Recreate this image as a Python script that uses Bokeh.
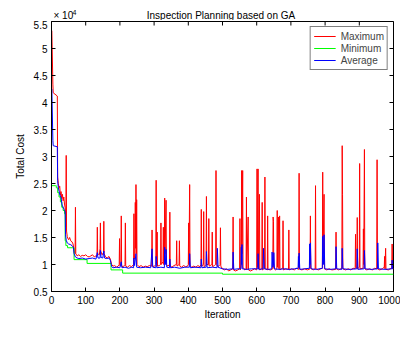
import math
from bokeh.plotting import figure
from bokeh.layouts import column
from bokeh.models import FixedTicker, Range1d, Legend, LegendItem
from bokeh.core.properties import value
from bokeh.embed import file_html
from bokeh.resources import INLINE

# ---------------- data (values in units of 1e4) ----------------
x_ticks = [0, 100, 200, 300, 400, 500, 600, 700, 800, 900, 1000]
y_ticks = [0.5, 1, 1.5, 2, 2.5, 3, 3.5, 4, 4.5, 5, 5.5]
y_tick_labels = ["0.5", "1", "1.5", "2", "2.5", "3", "3.5", "4", "4.5", "5", "5.5"]

title_text = "Inspection Planning based on GA"
scale_text = "× 10"
scale_exp = "4"

# Minimum cost (step function: iteration where a new minimum is reached)
min_iter = [0, 12, 14, 18, 22, 26, 30, 34, 38, 40, 42, 47, 66, 104, 174, 208, 500, 1000]
min_cost = [2.46, 2.46, 2.42, 2.33, 2.25, 2.16, 2.06, 2.00, 1.94, 1.44, 1.35, 1.31, 1.09, 1.02, 0.90, 0.84, 0.82, 0.82]

# Maximum cost
max_iter = [1, 4, 5, 17, 18, 20, 22, 24, 26, 28, 30, 32, 34, 36, 38, 40, 41, 42, 43, 44, 46, 48,
            50, 53, 56, 60, 63, 65, 67, 69, 70, 71, 75, 80, 85, 90, 95, 100, 105, 110, 115, 120,
            125, 130, 133, 134, 135, 140, 142, 143, 144, 148, 152, 153, 154, 158, 163, 168, 172,
            176, 180, 185, 190, 195, 198, 199, 200, 203, 204, 205, 210, 215, 216, 217, 222, 228,
            234, 240, 241, 242, 244, 245, 246, 247, 248, 249, 250, 256, 262, 268, 274, 280, 286,
            293, 294, 295, 300, 305, 306, 307, 309, 310, 315, 319, 320, 321, 326, 327, 328, 330,
            331, 332, 335, 336, 340, 345, 346, 347, 352, 358, 365, 366, 367, 373, 374, 375, 380,
            386, 392, 398, 400, 401, 402, 404, 405, 410, 416, 422, 428, 434, 437, 438, 439, 444,
            445, 446, 450, 452, 453, 454, 459, 460, 461, 469, 470, 471, 476, 480, 481, 482, 487,
            493, 494, 495, 500, 506, 512, 518, 524, 530, 531, 532, 538, 545, 550, 551, 552, 555,
            556, 557, 559, 560, 565, 569, 570, 571, 575, 576, 582, 588, 594, 600, 601, 602, 604,
            605, 608, 609, 615, 616, 617, 623, 624, 625, 631, 632, 633, 640, 647, 648, 649, 650,
            655, 659, 660, 661, 664, 665, 667, 668, 672, 676, 677, 678, 685, 693, 694, 695, 702,
            710, 716, 723, 724, 725, 732, 740, 748, 756, 757, 758, 765, 771, 772, 773, 780, 787,
            792, 793, 794, 797, 798, 805, 812, 820, 831, 832, 833, 840, 849, 850, 851, 852, 860,
            868, 875, 882, 888, 889, 890, 893, 894, 895, 900, 901, 902, 911, 912, 913, 915, 916,
            922, 930, 938, 945, 951, 952, 953, 960, 967, 973, 974, 975, 977, 978, 985, 990, 995,
            996, 997, 1000]
max_cost = [5.33, 4.34, 4.18, 4.12, 2.62, 2.50, 2.42, 2.45, 2.28, 2.35, 2.22, 2.30, 2.18, 2.25, 2.12, 2.05, 1.90, 1.70, 3.02, 1.62, 1.52, 1.48,
            1.46, 1.50, 1.44, 1.42, 1.38, 1.30, 1.22, 1.20, 2.06, 1.20, 1.16, 1.18, 1.15, 1.17, 1.16, 1.18, 1.15, 1.14, 1.16, 1.18,
            1.14, 1.16, 1.15, 1.69, 1.20, 1.18, 1.30, 1.77, 1.25, 1.18, 1.22, 1.80, 1.20, 1.14, 1.12, 1.15, 1.10,
            1.00, 0.97, 0.98, 0.95, 0.97, 1.00, 1.48, 0.98, 1.00, 1.90, 0.97, 0.96, 1.00, 1.77, 0.97, 0.95, 0.98,
            0.96, 1.00, 1.94, 1.10, 1.20, 2.15, 1.30, 2.48, 1.20, 2.20, 1.00, 0.96, 0.98, 0.95, 0.97, 0.96, 0.98,
            0.97, 1.64, 0.98, 0.96, 1.00, 2.56, 1.10, 1.60, 0.97, 0.98, 1.00, 1.77, 1.00, 1.05, 1.69, 1.00, 1.10,
            2.23, 1.20, 2.19, 1.00, 0.97, 1.00, 1.97, 0.98, 0.95, 0.98, 1.00, 1.44, 0.97, 1.00, 1.44, 0.97, 0.95,
            0.98, 0.96, 0.97, 1.00, 1.77, 1.00, 2.48, 0.98, 0.95, 0.97, 0.95, 0.98, 0.96, 1.00, 2.02, 0.97, 1.00,
            1.98, 0.96, 0.98, 1.00, 2.26, 1.00, 1.00, 1.85, 0.97, 1.00, 1.60, 0.96, 0.98, 1.00, 2.74, 1.00, 0.96,
            1.00, 1.68, 0.97, 0.92, 0.90, 0.92, 0.88, 0.90, 0.92, 1.88, 0.90, 0.88, 0.90, 0.92, 1.85, 0.90, 1.00,
            2.74, 1.20, 2.74, 0.95, 0.90, 0.92, 2.25, 0.90, 1.88, 0.90, 0.88, 0.90, 0.92, 0.90, 2.77, 0.95, 2.77,
            0.92, 2.30, 0.90, 0.92, 2.15, 0.90, 0.93, 2.62, 0.92, 0.90, 1.90, 0.91, 0.90, 0.92, 1.88, 1.80, 0.93,
            0.90, 0.92, 2.00, 0.95, 1.88, 0.92, 1.90, 0.90, 0.92, 0.93, 1.81, 0.90, 0.92, 0.91, 1.64, 0.90, 0.92,
            0.90, 0.93, 0.91, 2.69, 0.92, 0.90, 0.92, 0.90, 0.92, 1.90, 0.93, 0.90, 0.92, 2.46, 0.92, 0.90, 0.92,
            0.93, 2.71, 1.20, 2.30, 0.92, 0.90, 0.92, 0.90, 0.91, 1.60, 0.92, 0.90, 0.93, 3.20, 2.30, 0.92, 0.90,
            0.92, 0.90, 0.93, 0.92, 1.56, 0.95, 0.93, 1.87, 0.92, 0.95, 2.87, 0.92, 0.93, 1.66, 1.00, 3.13, 0.92,
            0.90, 0.92, 0.90, 0.93, 0.92, 2.94, 0.92, 0.90, 0.92, 0.95, 1.15, 0.92, 1.30, 0.91, 0.90, 0.92, 0.93,
            1.38, 0.93, 0.92]

# Average cost
avg_iter = [1, 4, 5, 17, 18, 20, 22, 25, 28, 31, 34, 37, 40, 41, 43, 46, 50, 55, 60, 64, 66, 70, 75,
            80, 90, 100, 110, 120, 130, 134, 136, 142, 143, 145, 150, 153, 155, 160, 168, 172, 176, 180,
            190, 200, 204, 206, 215, 225, 235, 240, 241, 243, 247, 249, 260, 275, 290, 294, 296, 305,
            306, 308, 320, 330, 331, 333, 335, 337, 345, 346, 348, 360, 375, 390, 403, 404, 406, 420,
            437, 438, 440, 452, 453, 455, 470, 484, 485, 487, 500, 515, 530, 531, 533, 545, 554, 555,
            556, 557, 558, 570, 585, 603, 604, 606, 619, 620, 622, 635, 644, 645, 647, 649, 650, 652,
            665, 680, 695, 710, 721, 722, 723, 724, 726, 740, 754, 755, 756, 757, 759, 775, 792, 793,
            795, 797, 799, 815, 831, 832, 834, 849, 850, 852, 870, 893, 894, 896, 914, 915, 917, 935,
            953, 954, 956, 975, 995, 996, 997, 1000]
avg_cost = [4.25, 3.30, 3.20, 3.18, 2.55, 2.42, 2.36, 2.28, 2.24, 2.10, 2.06, 2.02, 1.98, 1.55, 1.45, 1.40, 1.38, 1.37, 1.35, 1.32, 1.20, 1.14, 1.12,
            1.11, 1.12, 1.10, 1.11, 1.12, 1.10, 1.22, 1.12, 1.12, 1.26, 1.13, 1.12, 1.25, 1.12, 1.11, 1.12, 1.08, 0.96, 0.94,
            0.95, 0.94, 1.05, 0.94, 0.95, 0.93, 0.95, 0.94, 1.12, 0.98, 1.20, 0.95, 0.94, 0.95, 0.94, 1.29, 0.95, 0.94,
            1.15, 0.94, 0.95, 0.94, 1.32, 1.00, 1.28, 0.95, 0.94, 1.10, 0.94, 0.95, 0.93, 0.95, 0.95, 1.20, 0.94, 0.95,
            0.94, 1.10, 0.94, 0.95, 1.24, 0.94, 0.95, 0.94, 1.30, 0.95, 0.92, 0.91, 0.92, 1.23, 0.91, 0.92, 0.92, 1.32,
            1.00, 1.37, 0.92, 0.91, 0.92, 0.92, 1.20, 0.91, 0.92, 1.30, 0.92, 0.91, 0.92, 1.23, 0.95, 0.98, 1.22, 0.92,
            0.91, 0.92, 0.91, 0.92, 0.93, 1.15, 0.95, 1.21, 0.91, 0.92, 0.93, 1.38, 1.00, 1.40, 0.92, 0.91, 0.93, 1.52,
            1.00, 1.55, 0.92, 0.91, 0.92, 1.33, 0.92, 0.91, 1.30, 0.92, 0.91, 0.92, 1.29, 0.91, 0.92, 1.26, 0.92, 0.91,
            0.92, 1.40, 0.92, 0.91, 0.92, 1.08, 0.92, 0.92]

FONT = "Liberation Sans"
W = 400
FRAME_L, FRAME_R = 51, 393      # frame edges in page pixels (header frame aligns to them)

# ---------------- header strip (title and axis multiplier), x in page pixels ----------------
head = figure(width=W, height=20, output_backend="svg", toolbar_location=None,
              x_range=Range1d(FRAME_L, FRAME_R), y_range=Range1d(0, 20),
              x_axis_type=None, y_axis_type=None, min_border=0,
              min_border_left=FRAME_L, min_border_right=W - FRAME_R)
head.outline_line_color = None
head.xgrid.visible = False
head.ygrid.visible = False
head.text(x=[220.5], y=[5], text=[title_text], text_align="center", text_baseline="alphabetic",
          text_font=value(FONT), text_font_size="10px", text_color="black")
head.text(x=[53], y=[5], text=[scale_text], text_align="left", text_baseline="alphabetic",
          text_font=value(FONT), text_font_size="10px", text_color="black")
head.text(x=[72], y=[8.5], text=[scale_exp], text_align="left", text_baseline="alphabetic",
          text_font=value(FONT), text_font_size="7px", text_color="black")

# ---------------- main plot ----------------
p = figure(width=W, height=310, output_backend="svg", toolbar_location=None,
           x_range=Range1d(0, 1000), y_range=Range1d(0.5, 5.5),
           min_border_left=FRAME_L, min_border_right=W - FRAME_R, min_border_top=1, min_border_bottom=39)
p.background_fill_color = "white"
p.border_fill_color = "white"
p.outline_line_color = "black"
p.outline_line_width = 1
p.xgrid.visible = False
p.ygrid.visible = False

r_max = p.line(max_iter, max_cost, line_color="#ff0000", line_width=1)
r_min = p.step(min_iter, min_cost, mode="after", line_color="#00ff00", line_width=1)
r_avg = p.line(avg_iter, avg_cost, line_color="#0000ff", line_width=1)

# inward tick marks on the top and right edges of the box (halves outside are clipped)
p.scatter(x_ticks, [y_ticks[-1]] * len(x_ticks), marker="dash", angle=math.pi / 2,
          size=8, line_color="black", line_width=1)
p.scatter([x_ticks[-1]] * len(y_ticks), y_ticks, marker="dash", angle=0,
          size=8, line_color="black", line_width=1)

xa = p.xaxis[0]
ya = p.yaxis[0]
xa.ticker = FixedTicker(ticks=x_ticks)
ya.ticker = FixedTicker(ticks=y_ticks)
ya.major_label_overrides = {t: l for t, l in zip(y_ticks, y_tick_labels)}
for ax in (xa, ya):
    ax.axis_line_color = "black"
    ax.major_tick_line_color = "black"
    ax.major_tick_in = 4
    ax.major_tick_out = 0
    ax.minor_tick_line_color = None
    ax.major_label_text_font = FONT
    ax.major_label_text_font_size = "10px"
    ax.major_label_text_color = "black"
    ax.axis_label_text_font = FONT
    ax.axis_label_text_font_size = "10px"
    ax.axis_label_text_font_style = "normal"
    ax.axis_label_text_color = "black"
xa.axis_label = "Iteration"
ya.axis_label = "Total Cost"
xa.major_label_standoff = 4
ya.major_label_standoff = 4
xa.axis_label_standoff = 2
ya.axis_label_standoff = 5

legend = Legend(items=[LegendItem(label="Maximum", renderers=[r_max]),
                       LegendItem(label="Minimum", renderers=[r_min]),
                       LegendItem(label="Average", renderers=[r_avg])],
                location="top_right")
legend.margin = 5
legend.padding = 3
legend.spacing = 0
legend.glyph_width = 22
legend.glyph_height = 12
legend.label_height = 12
legend.label_standoff = 5
legend.label_text_font = FONT
legend.label_text_font_size = "10px"
legend.border_line_color = "black"
legend.border_line_width = 1
legend.background_fill_color = "white"
legend.background_fill_alpha = 1.0
p.add_layout(legend)

layout = column(head, p, spacing=0)
open("out.html", "w").write(file_html(layout, INLINE))
